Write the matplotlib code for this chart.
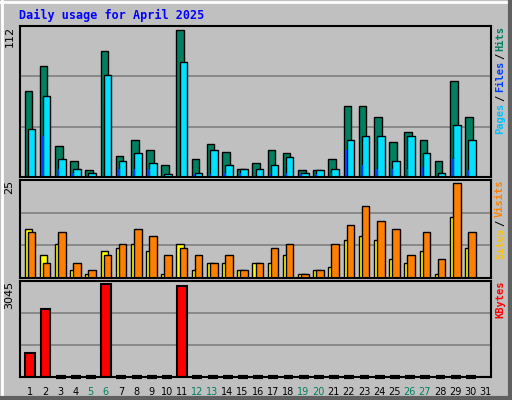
import matplotlib
matplotlib.use("Agg")
import matplotlib.pyplot as plt
from matplotlib.patches import Rectangle
import numpy as np

days = list(range(1, 32))
weekends = [5, 6, 12, 13, 19, 20, 26, 27]
hits = [66, 85, 24, 12, 5, 96, 16, 28, 21, 9, 112, 14, 25, 19, 6, 11, 21, 18, 5, 5, 14, 54, 54, 46, 27, 34, 28, 12, 73, 46, 0]
files = [37, 62, 14, 6, 3, 78, 12, 18, 11, 2, 88, 3, 21, 9, 6, 6, 9, 15, 3, 5, 6, 28, 31, 31, 12, 31, 18, 3, 40, 28, 0]
pages = [31, 31, 6, 3, 0, 53, 6, 6, 6, 0, 56, 2, 2, 3, 3, 3, 2, 3, 2, 2, 3, 21, 9, 6, 6, 6, 8, 0, 14, 5, 0]
sites = [13, 6, 9, 2, 1, 7, 8, 9, 7, 1, 9, 2, 4, 4, 2, 4, 4, 6, 1, 2, 3, 10, 11, 10, 5, 4, 7, 1, 16, 8, 0]
visits = [12, 4, 12, 4, 2, 6, 9, 13, 11, 6, 8, 6, 4, 6, 2, 4, 8, 9, 1, 2, 9, 14, 19, 15, 13, 6, 12, 5, 25, 12, 0]
kbytes = [800, 2210, 0, 0, 0, 3045, 0, 0, 0, 0, 2980, 0, 0, 0, 0, 0, 0, 0, 0, 0, 0, 0, 0, 0, 0, 0, 0, 0, 0, 0, 0]

W, H = 512, 400
fig = plt.figure(figsize=(W/100, H/100), dpi=100)
fig.patch.set_facecolor("#c0c0c0")
fig.add_artist(plt.Line2D([0, 1], [0.995, 0.995], transform=fig.transFigure, color="white", lw=2))
fig.add_artist(plt.Line2D([0.003, 0.003], [0, 1], transform=fig.transFigure, color="white", lw=2))
fig.add_artist(plt.Line2D([0, 1], [0.004, 0.004], transform=fig.transFigure, color="#606060", lw=3))
fig.add_artist(plt.Line2D([0.997, 0.997], [0, 1], transform=fig.transFigure, color="#606060", lw=3))

def ax_at(x0, y0, x1, y1):
    return fig.add_axes([x0/W, 1 - y1/H, (x1-x0)/W, (y1-y0)/H])

x = np.array(days) - 1
axt = ax_at(20, 26, 491, 177)
axm = ax_at(20, 180, 491, 278)
axb = ax_at(20, 281, 491, 377)

def setup(ax, top, label):
    ax.set_facecolor("#c0c0c0")
    ax.set_xlim(0, 31)
    ylim = top * 1.03
    ax.set_ylim(0, ylim)
    for g in (ylim/3, 2*ylim/3):
        ax.axhline(g, color="#808080", lw=1.2, zorder=0)
    ax.set_yticks([])
    ax.set_xticks([])
    for s in ax.spines.values():
        s.set_color("black"); s.set_linewidth(1.5)
    ax.text(-0.012, 1.0, label, transform=ax.transAxes, rotation=90, ha="right", va="top",
            fontsize=8, family="DejaVu Sans")

setup(axt, 112, "112")
setup(axm, 25, "25")
setup(axb, 3045, "3045")

ek = dict(edgecolor="black", linewidth=1)
axt.bar(x + 0.3, hits, width=0.5, align="edge", color="#008060", **ek)
axt.bar(x + 0.5, files, width=0.5, align="edge", color="#00e0ff", **ek)
axt.bar(x + 0.45, pages, width=0.1, align="edge", color="#0040ff", linewidth=0)
axm.bar(x + 0.3, sites, width=0.5, align="edge", color="#ffff00", **ek)
axm.bar(x + 0.5, visits, width=0.5, align="edge", color="#ff8000", **ek)
axb.bar(x + 0.35, kbytes, width=0.65, align="edge", color="#ff0000", edgecolor="black", linewidth=1.5)
for i, k in enumerate(kbytes):
    if k == 0 and i < 30:
        axb.plot([x[i] + 0.35, x[i] + 1.0], [0, 0], color="black", lw=3, solid_capstyle="butt",
                 clip_on=False)

for d in days:
    axb.text(d - 0.35, -0.1, str(d), transform=axb.get_xaxis_transform(), ha="center", va="top",
             fontsize=7, color="#008060" if d in weekends else "black")

fig.text(19/W, 1 - 15/H, "Daily usage for April 2025", color="#0000ff", fontsize=8.5,
         fontweight="bold", family="DejaVu Sans Mono", va="center", ha="left")

fig.canvas.draw()
r = fig.canvas.get_renderer()

def vlabel(ax, parts):
    xs = 500/W
    bb = ax.get_position()
    y = bb.y1
    for txt, col in parts:
        t = fig.text(xs, y, txt, rotation=90, color=col, fontsize=7.5, family="DejaVu Sans Mono",
                     fontweight="bold", ha="center", va="top")
        ext = t.get_window_extent(r)
        y -= (ext.height + 2) / H

vlabel(axt, [("Hits", "#008060"), ("/", "black"), ("Files", "#0040ff"), ("/", "black"), ("Pages", "#00c0ff")])
vlabel(axm, [("Visits", "#ff8000"), ("/", "black"), ("Sites", "#ffc000")])
vlabel(axb, [("KBytes", "#ff0000")])

fig.savefig("out.png", dpi=100, facecolor=fig.get_facecolor())
